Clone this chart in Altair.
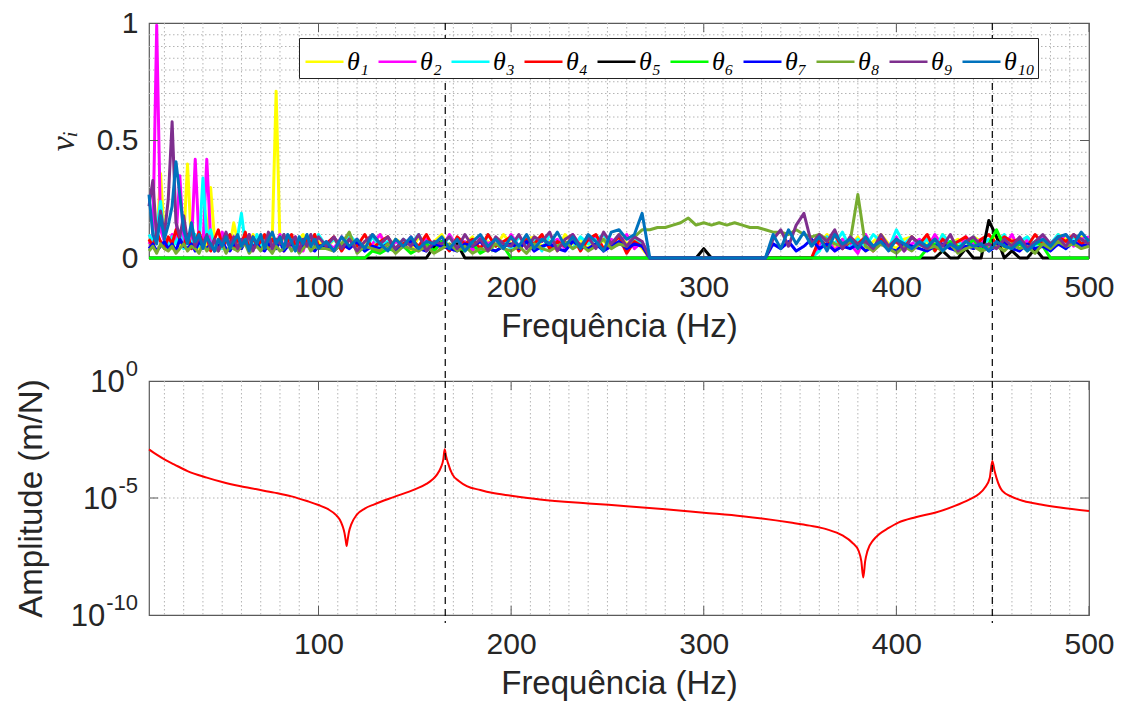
import altair as alt
import pandas as pd

# ---------------- data ----------------
# sample frequencies (Hz) of the mode-indicator curves
freq = list(range(12, 101, 2)) + list(range(104, 501, 4))

series_names = ["θ₁", "θ₂", "θ₃", "θ₄", "θ₅", "θ₆", "θ₇", "θ₈", "θ₉", "θ₁₀"]
series_colors = ["#FFFF00", "#FF00FF", "#00FFFF", "#FF0000", "#000000",
                 "#00FF00", "#0000FF", "#77AC30", "#7E2F8E", "#0072BD"]

# values in hundredths (0.01 units), 45 values for 12..100 Hz then 100 values for 104..500 Hz
theta1 = [8,5,7,36,9,6,4,8,5,7,40,6,9,4,7,5,30,8,4,6,9,5,15,7,4,8,6,10,5,7,9,4,8,71,6,9,5,7,4,8,10,6,9,5,7,
          4,8,6,9,3,7,5,10,4,8,6,3,9,5,7,10,4,8,6,9,3,7,5,10,6,4,8,9,5,7,3,10,6,8,4,9,7,5,10,6,8,4,
          0,0,0,0,0,0,0,0,0,0,0,0,0,0,0,0,0,0,0,0,0,0,
          6,10,4,8,5,9,3,7,10,6,4,8,9,5,7,3,10,6,8,4,9,7,5,10,3,8,6,9,4,7,5,10,8,6,9,7]
theta2 = [6,9,99,12,7,5,10,8,35,6,9,4,42,7,5,42,8,6,4,11,7,5,9,3,8,6,10,4,7,9,5,8,3,6,10,4,7,5,9,6,3,8,5,7,4,
          7,4,9,5,8,3,6,10,4,7,5,9,3,8,6,4,10,5,7,3,9,6,8,4,10,5,7,3,9,6,8,4,10,5,7,9,3,8,6,10,4,7,
          0,0,0,0,0,0,0,0,0,0,0,0,0,0,0,0,0,0,0,0,0,0,
          5,9,3,8,6,2,10,4,7,5,9,3,6,8,4,10,5,7,3,9,6,8,4,7,5,10,3,8,6,9,4,7,10,5,8,9]
theta3 = [10,7,12,24,8,5,9,6,11,4,8,6,10,5,34,9,12,5,8,4,7,10,5,9,19,6,8,4,10,5,7,9,4,8,6,10,5,7,3,9,6,8,4,7,10,
          5,8,4,10,6,3,9,5,7,4,8,6,10,3,7,5,9,4,6,8,3,10,5,7,4,9,6,8,3,10,5,7,4,9,6,8,10,5,7,4,9,6,
          0,0,0,0,0,0,0,0,0,0,0,0,0,0,0,0,0,0,0,0,0,0,
          3,9,6,11,4,8,5,10,7,4,12,6,9,5,8,3,10,6,7,4,9,5,8,6,10,4,7,9,5,8,6,10,4,9,7,8]
theta4 = [8,5,11,7,4,9,6,12,8,5,10,4,7,11,6,9,3,8,12,5,7,10,4,8,6,11,3,9,5,7,10,4,8,6,9,3,7,10,5,8,4,9,6,10,5,
          6,9,3,8,5,10,4,7,9,3,6,8,5,10,4,7,3,9,6,8,4,10,5,7,9,3,8,6,10,4,7,5,9,3,8,10,4,6,9,2,7,5,
          0,0,0,0,0,0,0,0,0,0,0,0,0,0,0,0,0,0,0,0,0,0,
          8,5,10,4,7,6,9,3,8,5,7,4,9,6,10,3,8,5,7,9,4,8,10,6,9,7,8,5,10,6,4,9,7,10,6,8]
theta5 = [0]*45 + [
          0,0,0,0,0,0,
          0,0,0,0,0,0,0,0, 5,7,4,6, 0,0,0,0,0,0,
          0,0,0,0,0,0,0,0,0,0,0,0,0,0,0,0,0,0,0,0,0,0,0,0,0,
          4,
          0,0,0,0,0,0,0,0,0,0,0,0,0,0,0,0,0,0,0,0,0,0,0,0,0,0,0,0,
          0,0,3,0,0,4,0,0, 16, 9, 0,3,0,0,4,0,
          0,0,0,0,0,0]
theta6 = [0]*45 + [
          0,0,0,0,0,0,
          3,2,4,3,5,2,4,6,3,7,4,5,3,6,2,4,3,5,
          0,0,0,0,0,0,0,0,0,0,0,0,0,0,0,0,0,0,
          0,0,0,0,0,0,0,0,0,0,0,0,0,0,0,0,
          0,0,0,0,0,0,0,0,0,0,0,0,0,0,0,0,0,0,0,0,
          4,6,3,7,5,4,8,3,6,12,5,4,6,3,7,5,
          0,0,0,0,0,0]
theta7 = [4,6,3,5,7,4,6,3,8,5,4,6,3,7,5,4,6,3,5,7,4,3,6,5,4,7,3,5,6,4,3,6,5,4,7,3,5,6,4,3,5,6,4,3,5,
          5,3,6,4,7,3,5,4,6,3,5,7,4,3,6,5,4,3,6,5,7,4,3,5,6,4,7,3,5,6,4,3,7,5,4,6,3,5,7,4,6,5,
          0,0,0,0,0,0,0,0,0,0,0,0,0,0,0,0,
          6,4,7,3,5,8,4,6,3,5,4,6,3,5,7,4,3,6,5,4,3,5,6,4,3,5,4,6,3,5,7,4,3,6,4,5,3,6,4,7,5,6]
theta8 = [3,5,2,6,4,3,5,2,4,6,3,5,4,2,6,3,5,4,3,6,2,5,4,3,5,6,2,4,5,3,6,4,2,5,3,4,6,3,5,2,4,6,3,5,4,
          4,3,6,11,2,5,4,3,6,2,5,4,3,5,2,
          4,6,3,5,2,4,3,6,4,
          3,5,2,6,4,3,5,7,4,6,3,5,8,4,6,5,9,
          12,
          12,13,13,14,15,17,14,15,14,15,14,15,14,13,13,12,
          11,11,10,12,10,9,10,8,6,5,7,27,
          5,3,6,4,2,5,3,6,4,5,3,6,2,4,5,3,
          4,5,
          3,6,4,5,2,6,4,7,5,6,4,5]
theta9 = [22,33,8,20,10,25,58,15,9,18,7,12,5,9,6,10,4,8,3,7,11,5,9,4,8,6,10,3,7,9,5,11,4,8,6,10,5,7,9,3,8,5,10,6,9,
          5,9,4,8,3,7,10,6,9,4,8,5,10,3,7,
          6,9,4,10,5,8,3,9,6,
          5,10,4,9,7,11,3,8,10,5,9,4,11,6,10,5,9,
          7,
          0,0,0,0,0,0,0,0,0,0,0,0,0,0,0,0,
          8,12,5,14,19,6,10,7,12,4,9,6,
          7,4,10,5,8,3,9,6,4,8,5,10,3,7,9,5,
          6,4,
          8,5,9,4,7,10,6,9,5,10,8,6]
theta10 = [27,10,6,18,8,14,22,41,27,12,6,15,7,10,4,9,6,3,8,5,9,4,7,10,5,8,3,9,6,10,4,8,11,6,9,4,10,7,3,9,6,10,5,8,4,
           7,3,9,5,8,4,10,6,3,8,5,9,4,7,6,
           9,4,8,3,7,10,5,8,4,
           9,5,10,4,8,6,11,5,9,4,10,7,3,11,12,8,10,
           19,
           0,0,0,0,0,0,0,0,0,0,0,0,0,0,0,0,
           10,4,12,6,11,5,9,3,10,6,8,4,
           9,5,7,3,8,6,4,7,5,8,3,6,4,7,5,6,
           3,7,
           5,4,7,3,6,8,5,9,10,6,11,7]

all_series = [theta1, theta2, theta3, theta4, theta5, theta6, theta7, theta8, theta9, theta10]

# frequency response (Hz, log10 of amplitude in m/N)
frf_freq = [12, 16, 20, 25, 32, 42, 50, 59, 68, 77, 86, 94, 100, 105, 109, 111, 112.5, 113.5, 114.2,
            114.6, 115.0, 115.8, 117, 120, 124, 129, 139, 150, 156, 159, 161.5, 163.5, 164.8, 165.5,
            166.2, 167.2, 169.5, 173, 177, 184, 190, 200, 215, 240, 260, 280, 300, 320, 345, 355, 364,
            372, 377, 380.4, 381.8, 382.8, 383.8, 385, 388, 391, 396, 401, 410, 420, 430, 438, 443, 446,
            448.5, 449.8, 451, 452, 455, 460, 466, 475, 485, 500]
frf_log10 = [-2.92, -3.15, -3.35, -3.56, -3.85, -4.13, -4.32, -4.49, -4.63, -4.77, -4.93, -5.13, -5.30,
             -5.48, -5.72, -5.92, -6.2, -6.5, -6.85, -7.05, -6.85, -6.45, -6.13, -5.70, -5.45, -5.27,
             -4.96, -4.63, -4.40, -4.22, -4.00, -3.70, -3.35, -2.92, -3.20, -3.50, -3.99, -4.28, -4.49,
             -4.66, -4.78, -4.90, -5.06, -5.23, -5.35, -5.48, -5.63, -5.78, -6.05, -6.18, -6.34, -6.60,
             -6.90, -7.26, -7.70, -8.40, -7.70, -7.26, -6.80, -6.55, -6.28, -6.05, -5.82, -5.63, -5.35,
             -5.06, -4.82, -4.55, -4.13, -3.42, -3.85, -4.15, -4.70, -4.95, -5.13, -5.28, -5.41, -5.56]

natural_freqs = [165.8, 449.8]

x_major = [100, 200, 300, 400, 500]
x_minor_grid = list(range(20, 500, 10))
y_top_grid = [round(0.05 * k, 2) for k in range(1, 20)]
y_top_ticks = [0, 0.5, 1]
y_bot_ticks = [1, 1e-5, 1e-10]
y_bot_exponents = ["0", "-5", "-10"]

# ---------------- tables ----------------
rows = []
for name, vals in zip(series_names, all_series):
    assert len(vals) == len(freq), (name, len(vals))
    for f, v in zip(freq, vals):
        rows.append({"f": f, "v": v / 100.0, "s": name})
nu_df = pd.DataFrame(rows)
assert len(frf_freq) == len(frf_log10)
frf_df = pd.DataFrame({"f": frf_freq, "v": [10 ** e for e in frf_log10]})
modes_df = pd.DataFrame({"f": natural_freqs})
xgrid_df = pd.DataFrame({"f": x_minor_grid})
xmaj_df = pd.DataFrame({"f": x_major})
ytop_grid_df = pd.DataFrame({"v": y_top_grid})
ytop_tick_df = pd.DataFrame({"v": [0.5]})
ybot_grid_df = pd.DataFrame({"v": [1e-5]})

# ---------------- layout / style ----------------
W, HT, HB, GAP = 940, 235, 234, 123
FRAME = "#5a5a5a"
GRID = "#b4b4b4"
TXT = "#262626"
FONT = "Liberation Sans"
xscale = alt.Scale(domain=[12, 500], nice=False, zero=False)
ytop_scale = alt.Scale(domain=[0, 1], nice=False, zero=False)
ybot_scale = alt.Scale(type="log", domain=[1e-10, 1], nice=False)

x_axis = alt.Axis(values=x_major, title="Frequência (Hz)", ticks=False, tickSize=0, domain=False,
                  grid=False, labelPadding=14, titlePadding=8, labelFlush=False)
ytop_axis = alt.Axis(values=y_top_ticks, title="νᵢ", labelExpr="'' + datum.value",
                     ticks=False, tickSize=0, domain=False, grid=False, labelPadding=11,
                     titleFont="Liberation Serif", titleFontStyle="italic",
                     titleFontSize=34, titleX=-86, titleY=HT / 2, titleAngle=-90,
                     titleAlign="center", titleBaseline="middle")
ybot_axis = alt.Axis(values=y_bot_ticks, title="Amplitude (m/N)", labelExpr="''",
                     ticks=False, tickSize=0, domain=False, grid=False, labelPadding=11,
                     titleX=-118, titleY=HB / 2, titleAngle=-90, titleAlign="center",
                     titleBaseline="middle")


def X():
    return alt.X("f:Q", scale=xscale, axis=x_axis, title="Frequência (Hz)")


def YT():
    return alt.Y("v:Q", scale=ytop_scale, axis=ytop_axis, title="νᵢ")


def YB():
    return alt.Y("v:Q", scale=ybot_scale, axis=ybot_axis, title="Amplitude (m/N)")


def vgrid(h):
    return alt.Chart(xgrid_df).mark_rule(color=GRID, strokeDash=[1.5, 2.5], strokeWidth=1).encode(
        x=X(), y=alt.value(0), y2=alt.value(h))


def xticks(h):
    bot = alt.Chart(xmaj_df).mark_rule(color=FRAME, strokeWidth=1).encode(
        x=X(), y=alt.value(h), y2=alt.value(h - 9))
    top = alt.Chart(xmaj_df).mark_rule(color=FRAME, strokeWidth=1).encode(
        x=X(), y=alt.value(0), y2=alt.value(9))
    return [bot, top]


# ---------- top panel ----------
hgrid_top = alt.Chart(ytop_grid_df).mark_rule(color=GRID, strokeDash=[1.5, 2.5], strokeWidth=1).encode(
    y=YT(), x=alt.value(0), x2=alt.value(W))
ytick_top = [
    alt.Chart(ytop_tick_df).mark_rule(color=FRAME).encode(y=YT(), x=alt.value(0), x2=alt.value(9)),
    alt.Chart(ytop_tick_df).mark_rule(color=FRAME).encode(y=YT(), x=alt.value(W - 9), x2=alt.value(W)),
]

legend = alt.Legend(orient="none", legendX=150, legendY=15, direction="horizontal", columns=10,
                    title=None, symbolType="stroke", symbolSize=1444, symbolStrokeWidth=2.5,
                    labelFont="Liberation Serif", labelFontStyle="italic", labelFontSize=26,
                    labelColor="black", strokeColor="#222222", fillColor="white", padding=3,
                    columnPadding=4, labelOffset=2, symbolOffset=2)
color_enc = alt.Color("s:N", scale=alt.Scale(domain=series_names, range=series_colors), legend=legend)

series_layers = []
for name in series_names:
    series_layers.append(
        alt.Chart(nu_df).transform_filter(alt.datum.s == name).mark_line(
            strokeWidth=3, strokeJoin="round").encode(x=X(), y=YT(), color=color_enc)
    )

dash_top = alt.Chart(modes_df).mark_rule(color="black", strokeDash=[7, 5], strokeWidth=1.2).encode(
    x=X(), y=alt.value(0), y2=alt.value(HT + GAP))

top = alt.layer(vgrid(HT), hgrid_top, *series_layers, dash_top, *xticks(HT), *ytick_top).properties(
    width=W, height=HT)

# ---------- bottom panel ----------
hgrid_bot = alt.Chart(ybot_grid_df).mark_rule(color=GRID, strokeDash=[1.5, 2.5], strokeWidth=1).encode(
    y=YB(), x=alt.value(0), x2=alt.value(W))
ytick_bot = [
    alt.Chart(ybot_grid_df).mark_rule(color=FRAME).encode(y=YB(), x=alt.value(0), x2=alt.value(9)),
    alt.Chart(ybot_grid_df).mark_rule(color=FRAME).encode(y=YB(), x=alt.value(W - 9), x2=alt.value(W)),
]

# y tick labels "10" with a raised exponent
EXP_SIZE, BASE_SIZE, LAB_GAP = 22, 31, 11
exp_w = {"0": 0.556, "-5": 0.889, "-10": 1.445}  # em widths of the exponents in Liberation Sans
label_layers = []
for val, ex in zip(y_bot_ticks, y_bot_exponents):
    one = pd.DataFrame({"v": [val], "t": ["10"], "e": [ex]})
    label_layers.append(
        alt.Chart(one).mark_text(font=FONT, fontSize=EXP_SIZE, color=TXT, align="right",
                                 baseline="middle", dy=-12).encode(
            y=YB(), x=alt.value(-LAB_GAP), text="e:N"))
    label_layers.append(
        alt.Chart(one).mark_text(font=FONT, fontSize=BASE_SIZE, color=TXT, align="right",
                                 baseline="middle", dy=2).encode(
            y=YB(), x=alt.value(-LAB_GAP - exp_w[ex] * EXP_SIZE - 1), text="t:N"))

frf_line = alt.Chart(frf_df).mark_line(color="#FF0000", strokeWidth=2, interpolate="monotone").encode(
    x=X(), y=YB())
dash_bot = alt.Chart(modes_df).mark_rule(color="black", strokeDash=[7, 5], strokeWidth=1.2).encode(
    x=X(), y=alt.value(0), y2=alt.value(HB + 8))

bottom = alt.layer(vgrid(HB), hgrid_bot, frf_line, dash_bot, *xticks(HB), *ytick_bot,
                   *label_layers).properties(width=W, height=HB)

chart = alt.vconcat(top, bottom, spacing=GAP, bounds="flush").properties(
    padding={"left": 14, "top": 7, "right": 10, "bottom": 3},
    background="white",
).configure_view(stroke=FRAME, strokeWidth=1.2).configure_axis(
    labelFont=FONT, titleFont=FONT, labelColor=TXT, titleColor=TXT,
    labelFontSize=30, titleFontSize=33, titleFontWeight="normal",
)

chart.save("out.html", embed_options={"renderer": "svg", "actions": False})
